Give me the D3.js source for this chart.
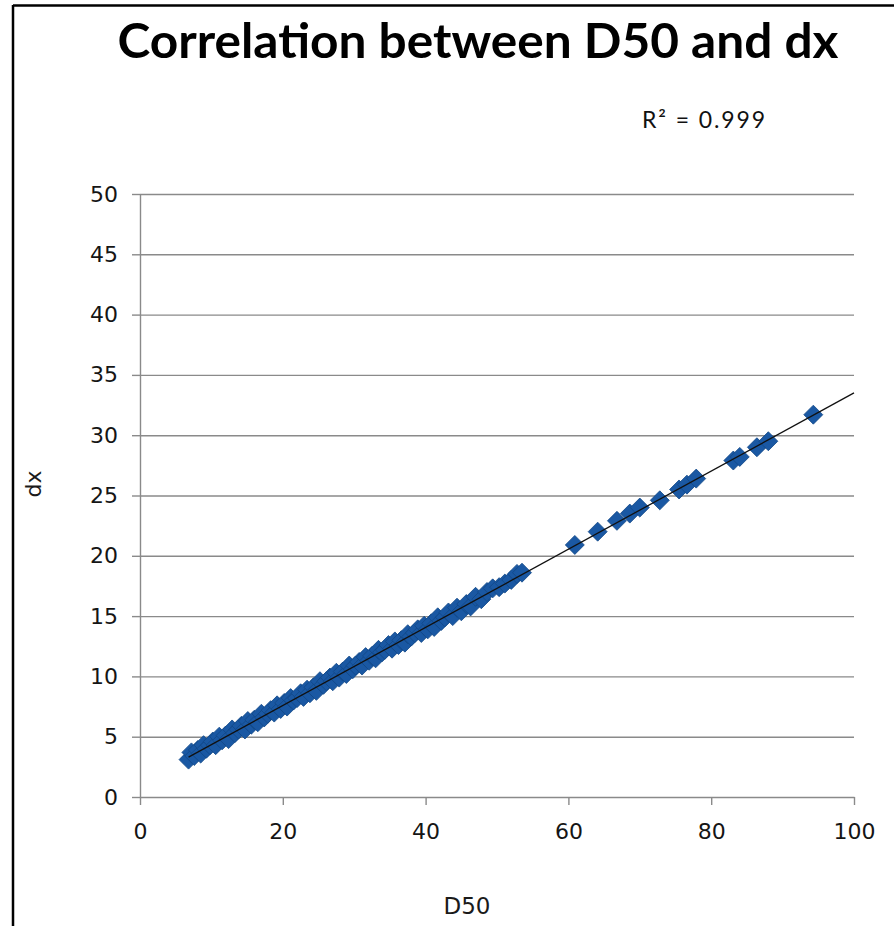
<!DOCTYPE html>
<html>
<head>
<meta charset="utf-8">
<script src="https://cdn.jsdelivr.net/npm/d3@7"></script>
<style>
  html, body { margin: 0; padding: 0; background: #fff; }
  svg { display: block; }
</style>
</head>
<body>
<svg id="chart" width="894" height="926"></svg>
<script>
// Measured samples: median grain size D50 against dx
const d50 = [
  6.8, 7.2, 7.6, 8.1, 8.5, 8.9, 9.3, 9.8, 10.2, 10.6,
  11.1, 11.5, 12.0, 12.4, 12.9, 13.3, 13.8, 14.2, 14.7, 15.1,
  15.6, 16.0, 16.5, 17.0, 17.4, 17.9, 18.3, 18.8, 19.2, 19.7,
  20.2, 20.6, 21.1, 21.5, 22.0, 22.5, 22.9, 23.4, 23.8, 24.3,
  24.7, 25.2, 25.7, 26.1, 26.6, 27.0, 27.5, 27.9, 28.4, 28.9,
  29.3, 29.8, 30.2, 30.7, 31.1, 31.6, 32.1, 32.5, 33.0, 33.4,
  33.9, 34.3, 34.8, 35.3, 35.7, 36.2, 36.6, 37.1, 37.5, 38.0,
  38.5, 38.9, 39.4, 39.8, 40.3, 40.8, 41.2, 41.7, 42.2, 42.7,
  43.2, 43.8, 44.4, 45.0, 45.7, 46.3, 47.0, 47.8, 48.6, 49.4,
  50.3, 51.1, 52.0, 52.8, 53.5,
  60.9, 64.1, 66.8, 68.6, 70.0, 72.8, 75.5, 76.6, 77.9,
  83.1, 84.0, 86.4, 88.0, 94.3
];
const dx = [
  3.1, 3.7, 3.4, 3.9, 3.6, 4.3, 4.0, 4.3, 4.6, 4.3,
  5.0, 4.7, 5.1, 4.8, 5.6, 5.3, 5.6, 5.9, 5.6, 6.3,
  6.0, 6.4, 6.2, 6.9, 6.6, 6.9, 7.2, 7.0, 7.6, 7.3,
  7.8, 7.5, 8.2, 8.0, 8.2, 8.6, 8.3, 8.9, 8.6, 9.1,
  8.8, 9.6, 9.3, 9.6, 9.9, 9.6, 10.3, 9.9, 10.4, 10.2,
  10.9, 10.6, 10.9, 11.2, 10.9, 11.6, 11.3, 11.7, 11.5, 12.2,
  12.0, 12.2, 12.6, 12.3, 12.9, 12.6, 13.0, 12.8, 13.5, 13.3,
  13.6, 13.9, 13.6, 14.2, 13.9, 14.4, 14.1, 14.9, 14.6, 14.9,
  15.3, 15.0, 15.7, 15.4, 16.0, 15.8, 16.6, 16.4, 17.0, 17.3,
  17.4, 17.7, 18.0, 18.5, 18.6,
  20.9, 22.0, 22.9, 23.5, 24.0, 24.6, 25.5, 25.9, 26.4,
  27.9, 28.2, 29.0, 29.5, 31.7
];

const xTicks = [0, 20, 40, 60, 80, 100];
const yTicks = [0, 5, 10, 15, 20, 25, 30, 35, 40, 45, 50];

const titleText = "Correlation between D50 and dx";
const xTitle = "D50";
const yTitle = "dx";

const svg = d3.select("#chart");

// Outer frame (left and top edges fall inside the page)
svg.append("line").attr("x1", 13).attr("y1", 5.5).attr("x2", 894).attr("y2", 5.5)
  .attr("stroke", "#000").attr("stroke-width", 2.5);
svg.append("line").attr("x1", 13).attr("y1", 5).attr("x2", 13).attr("y2", 926)
  .attr("stroke", "#000").attr("stroke-width", 2.5);

const plot = { left: 140, right: 854, top: 194, bottom: 797 };
const x = d3.scaleLinear().domain([0, 100]).range([plot.left, plot.right]);
const y = d3.scaleLinear().domain([0, 50]).range([plot.bottom, plot.top]);

const gridColor = "#8a8a8a";
const labelFont = "'DejaVu Sans', Verdana, sans-serif";

const styleTickText = g => g.selectAll("text")
  .attr("fill", "#151515")
  .style("font-family", labelFont).style("font-size", "22px");

// Horizontal gridlines
svg.append("g")
  .attr("transform", `translate(${plot.left},0)`)
  .call(d3.axisLeft(y).tickValues(yTicks.filter(v => v > 0)).tickSize(-(plot.right - plot.left)).tickFormat(""))
  .call(g => g.select(".domain").remove())
  .call(g => g.selectAll("line").attr("stroke", gridColor).attr("stroke-width", 1.4));

// Y axis
svg.append("g")
  .attr("transform", `translate(${plot.left},0)`)
  .call(d3.axisLeft(y).tickValues(yTicks).tickSize(8).tickPadding(14).tickSizeOuter(0))
  .call(g => g.select(".domain").attr("stroke", gridColor).attr("stroke-width", 1.4))
  .call(g => g.selectAll(".tick line").attr("stroke", gridColor).attr("stroke-width", 1.4))
  .call(styleTickText);

// X axis
svg.append("g")
  .attr("transform", `translate(0,${plot.bottom})`)
  .call(d3.axisBottom(x).tickValues(xTicks).tickSize(8).tickPadding(18).tickSizeOuter(0))
  .call(g => g.select(".domain").attr("stroke", gridColor).attr("stroke-width", 1.4))
  .call(g => g.selectAll(".tick line").attr("stroke", gridColor).attr("stroke-width", 1.4))
  .call(styleTickText);

// Data points as diamonds
const points = d50.map((v, i) => ({ x: v, y: dx[i] }));
const r = 9.5;
svg.append("g")
  .selectAll("path")
  .data(points)
  .join("path")
  .attr("transform", d => `translate(${x(d.x)},${y(d.y)})`)
  .attr("d", `M0,${-r}L${r},0L0,${r}L${-r},0Z`)
  .attr("fill", "#1a58a3")
  .attr("stroke", "#124886")
  .attr("stroke-width", 0.8);

// Least-squares linear trendline
const mx = d3.mean(points, d => d.x);
const my = d3.mean(points, d => d.y);
const sxy = d3.sum(points, d => (d.x - mx) * (d.y - my));
const sxx = d3.sum(points, d => (d.x - mx) ** 2);
const syy = d3.sum(points, d => (d.y - my) ** 2);
const slope = sxy / sxx;
const intercept = my - slope * mx;
const r2 = (sxy * sxy) / (sxx * syy);

const x0 = d3.min(d50), x1 = 100;
svg.append("line")
  .attr("x1", x(x0)).attr("y1", y(intercept + slope * x0))
  .attr("x2", x(x1)).attr("y2", y(intercept + slope * x1))
  .attr("stroke", "#111").attr("stroke-width", 1.3);

// R² annotation
svg.append("text")
  .attr("x", 642).attr("y", 128)
  .attr("textLength", 123)
  .attr("lengthAdjust", "spacing")
  .style("font-family", "Lato, 'Open Sans', sans-serif")
  .style("font-size", "23px")
  .attr("fill", "#111")
  .text(`R² = ${r2.toFixed(3)}`);

// Title
svg.append("text")
  .attr("x", 478).attr("y", 58)
  .attr("text-anchor", "middle")
  .attr("textLength", 721)
  .attr("lengthAdjust", "spacingAndGlyphs")
  .style("font-family", "Lato, 'Open Sans', sans-serif")
  .style("font-weight", "bold")
  .style("font-size", "48px")
  .attr("fill", "#000")
  .text(titleText);

// Axis titles
svg.append("text")
  .attr("x", 467).attr("y", 914)
  .attr("text-anchor", "middle")
  .style("font-family", labelFont)
  .style("font-size", "23px")
  .attr("fill", "#1a1a1a")
  .text(xTitle);

svg.append("text")
  .attr("transform", "translate(41,484) rotate(-90)")
  .attr("text-anchor", "middle")
  .style("font-family", labelFont)
  .style("font-size", "22px")
  .attr("fill", "#1a1a1a")
  .text(yTitle);
</script>
</body>
</html>
